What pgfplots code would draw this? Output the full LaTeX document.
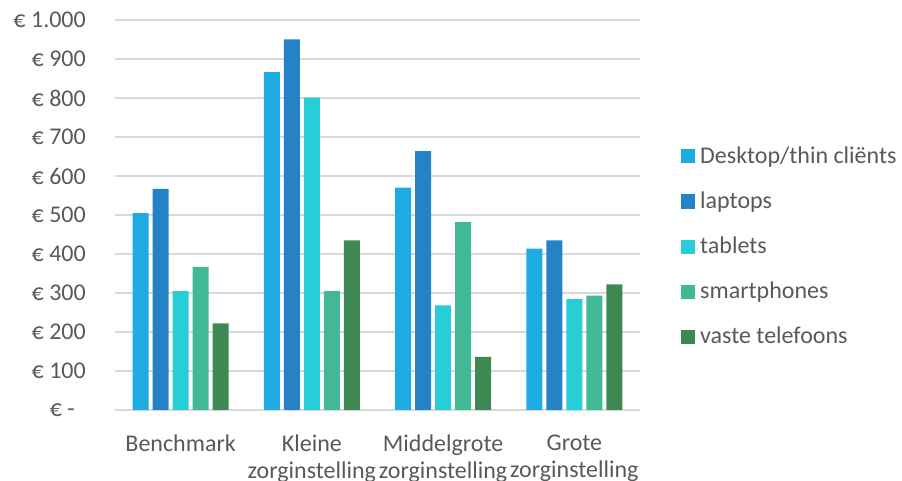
\documentclass[border=0pt]{standalone}
\usepackage{fontspec}
\setmainfont{Carlito}
\usepackage{pgfplots}
\pgfplotsset{compat=1.18}
\definecolor{cDesk}{HTML}{1EABE2}
\definecolor{cLap}{HTML}{2682C6}
\definecolor{cTab}{HTML}{27CDD7}
\definecolor{cSmart}{HTML}{42B996}
\definecolor{cVast}{HTML}{3E8953}
\definecolor{txt}{HTML}{595959}
\definecolor{gridc}{HTML}{D9D9D9}
\begin{document}
\fontsize{24bp}{28bp}\selectfont
\begin{tikzpicture}[x=1bp,y=1bp]
\path[use as bounding box] (0,0) rectangle (902,481);
\begin{axis}[
  at={(115bp,71bp)}, anchor=south west,
  width=525bp, height=390bp, scale only axis,
  ybar=4bp, bar width=16bp,
  xmin=-0.5, xmax=3.5, ymin=0, ymax=1000,
  xtick={0,1,2,3},
  xticklabels={Benchmark, Kleine\\zorginstelling, Middelgrote\\zorginstelling, Grote\\zorginstelling},
  ytick={0,100,...,1000},
  yticklabels={€ -\hspace*{11bp}, € 100, € 200, € 300, € 400, € 500, € 600, € 700, € 800, € 900, € 1.000},
  tick label style={font=\fontsize{24bp}{27.5bp}\selectfont, text=txt, inner sep=0pt},
  xticklabel style={align=center, anchor=north, yshift=-24.5bp},
  yticklabel style={anchor=east, xshift=-29bp},
  major tick length=0pt,
  tick style={draw=none},
  axis line style={draw=none},
  ymajorgrids,
  major grid style={draw=gridc, line width=1.3bp},
  legend image code/.code={\fill[#1] (0bp,0bp) rectangle (14bp,14bp);},
  legend cell align=left,
  legend style={draw=none, fill=none, inner sep=0pt,
    at={(1.0781,0.6787)}, anchor=north west,
    row sep=21bp, column sep=5bp,
    font=\fontsize{24bp}{29bp}\selectfont,
    nodes={inner sep=0pt, text height=18bp, text depth=6bp, text=txt},
    cells={anchor=base west}},
]
\addplot[fill=cDesk, draw=none] coordinates {(0,505) (1,866) (2,570) (3,414)};
\addplot[fill=cLap, draw=none] coordinates {(0,567) (1,950) (2,664) (3,435)};
\addplot[fill=cTab, draw=none] coordinates {(0,305) (1,801) (2,268) (3,284)};
\addplot[fill=cSmart, draw=none] coordinates {(0,367) (1,305) (2,482) (3,293)};
\addplot[fill=cVast, draw=none] coordinates {(0,222) (1,435) (2,136) (3,322)};
\legend{Desktop/thin cliënts, laptops, tablets, smartphones, vaste telefoons}
\end{axis}
\end{tikzpicture}
\end{document}
